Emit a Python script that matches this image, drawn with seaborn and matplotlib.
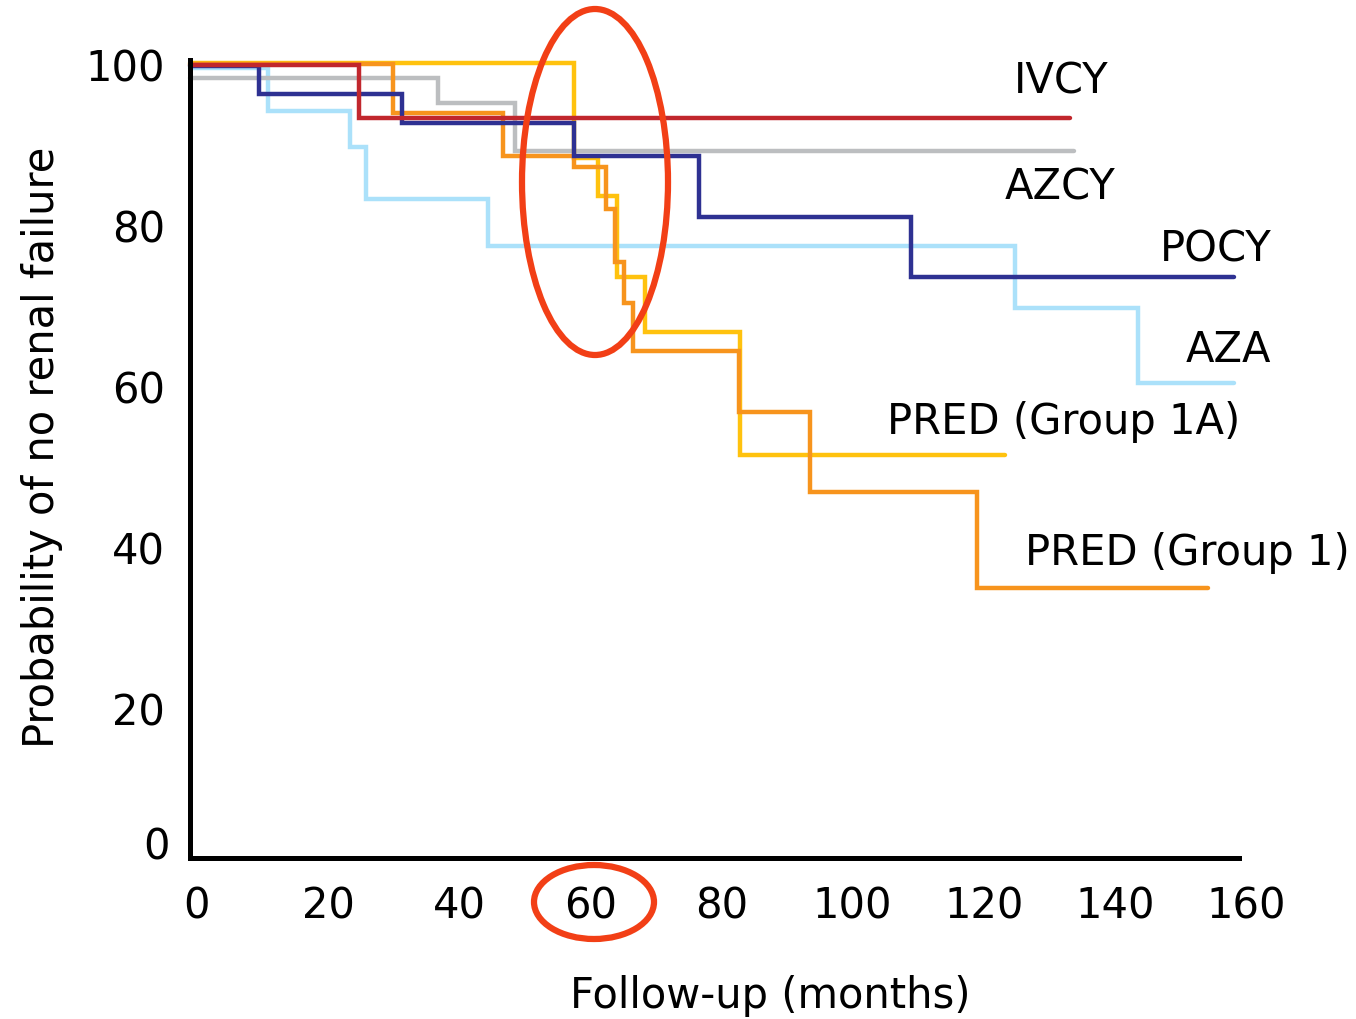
import numpy as np
import pandas as pd
import matplotlib
matplotlib.use("Agg")
import matplotlib.pyplot as plt
import matplotlib.transforms as mtransforms
from matplotlib.patches import Ellipse
import seaborn as sns

# ---- data ----
ivcy_t = [0, 25.8, 134.2]
ivcy_s = [99.8, 93.3, 93.3]
azcy_t = [0, 37.9, 49.6, 134.8]
azcy_s = [98.2, 95.1, 89.2, 89.2]
pocy_t = [0, 10.5, 32.3, 58.6, 77.6, 109.9, 159.2]
pocy_s = [99.65, 96.2, 92.6, 88.5, 81.0, 73.5, 73.5]
aza_t = [0, 11.9, 24.4, 26.8, 45.5, 125.8, 144.6, 159.2]
aza_s = [99.5, 94.1, 89.6, 83.2, 77.4, 69.6, 60.3, 60.3]
pred1a_t = [0, 58.6, 62.2, 65.1, 69.4, 83.9, 124.3]
pred1a_s = [100.1, 88.3, 83.6, 73.5, 66.6, 51.4, 51.4]
pred1_t = [0, 30.9, 47.8, 58.5, 63.5, 64.8, 66.2, 67.5, 83.8, 94.6, 120.0, 155.3]
pred1_s = [99.95, 93.9, 88.5, 87.2, 81.9, 75.3, 70.3, 64.3, 56.7, 46.8, 34.9, 34.9]

series_names = ["AZA", "AZCY", "PRED (Group 1A)", "PRED (Group 1)", "POCY", "IVCY"]
series_t = [aza_t, azcy_t, pred1a_t, pred1_t, pocy_t, ivcy_t]
series_s = [aza_s, azcy_s, pred1a_s, pred1_s, pocy_s, ivcy_s]
series_colors = ["#ABE1FA", "#BCBEC0", "#FFC20E", "#F7941D", "#2E3192", "#C1272D"]

x_ticks = [0, 20, 40, 60, 80, 100, 120, 140, 160]
y_ticks = [20, 40, 60, 80, 100]
x_label = "Follow-up (months)"
y_label = "Probability of no renal failure"

label_texts = ["IVCY", "AZCY", "POCY", "AZA", "PRED (Group 1A)", "PRED (Group 1)"]

# ---- styling ----
sns.set_theme(style="white")
plt.rcParams["font.family"] = ["DejaVu Sans"]
plt.rcParams["text.color"] = "black"

FS = 30
W, H = 1356, 1020
fig = plt.figure(figsize=(W / 100, H / 100), dpi=100)
ax = fig.add_axes([190 / W, (H - 859) / H, 1049 / W, 797.6 / H])

for name, t, s, c in zip(series_names, series_t, series_s, series_colors):
    df = pd.DataFrame({"t": t, "s": s})
    sns.lineplot(data=df, x="t", y="s", ax=ax, color=c, linewidth=3.2,
                 drawstyle="steps-post", estimator=None, sort=False,
                 clip_on=False, solid_joinstyle="miter")

ax.set_xlim(0, 160)
ax.set_ylim(1.32, 100.4)
ax.set_xticks(x_ticks)
ax.set_yticks(y_ticks)
ax.set_xticklabels([str(v) for v in x_ticks])
ax.set_yticklabels([str(v) for v in y_ticks])
ax.tick_params(axis="both", direction="out", length=10, width=2, color="black",
               labelsize=FS, labelcolor="black", pad=8)
ax.tick_params(axis="x", pad=9)
ax.set_xlabel("")
ax.set_ylabel("")

# x tick labels sit slightly to the right of their ticks in the reference
offset = mtransforms.ScaledTranslation(7 / 100, 0, fig.dpi_scale_trans)
for lab in ax.get_xticklabels():
    lab.set_transform(lab.get_transform() + offset)

for side in ["top", "right"]:
    ax.spines[side].set_visible(False)
for side in ["left", "bottom"]:
    ax.spines[side].set_linewidth(3.6)
    ax.spines[side].set_color("black")

# "0" on the y axis (placed just above the x axis as in the reference)
fig.text(170 / W, 1 - 848 / H, "0", ha="right", va="center", fontsize=FS, color="black")

fig.text(770 / W, 1 - 996 / H, x_label, ha="center", va="center", fontsize=FS, color="black")
fig.text(42 / W, 1 - 447 / H, y_label, ha="center", va="center",
         rotation=90, fontsize=FS, color="black")

# group labels
label_px = [(1061, 82), (1060, 188), (1216, 250), (1228, 350), (1064, 422), (1187, 553)]
for txt, (px, py) in zip(label_texts, label_px):
    fig.text(px / W, 1 - py / H, txt, ha="center", va="center", fontsize=FS, color="black")

# red highlight ellipses
fig.add_artist(Ellipse((595 / W, 1 - 183 / H), 146 / W, 346 / H,
                       transform=fig.transFigure, fill=False,
                       edgecolor="#F23F16", linewidth=4.5))
fig.add_artist(Ellipse((594 / W, 1 - 903 / H), 120 / W, 74 / H,
                       transform=fig.transFigure, fill=False,
                       edgecolor="#F23F16", linewidth=4.5))

fig.savefig("out.png", dpi=100, facecolor="white")
